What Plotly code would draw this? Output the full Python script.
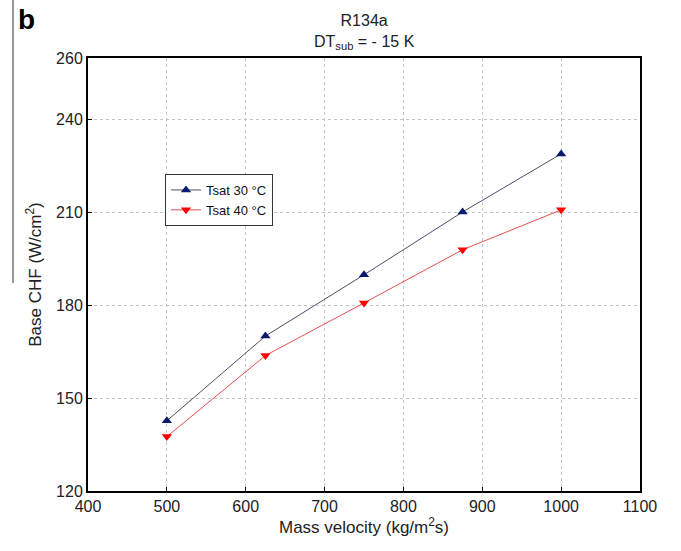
import plotly.graph_objects as go

mass_velocity = [500, 625, 750, 875, 1000]
chf_30 = [142.7, 170.1, 189.9, 210.2, 229.0]
chf_40 = [137.6, 163.8, 180.8, 198.0, 210.9]
y_ticks = [120, 150, 180, 210, 240, 260]
x_ticks = [400, 500, 600, 700, 800, 900, 1000, 1100]

font_family = "Liberation Sans, Arial, sans-serif"

fig = go.Figure()
fig.add_trace(go.Scatter(
    x=mass_velocity, y=chf_30, mode="lines+markers", name="Tsat 30 °C",
    line=dict(color="#4a4f6a", width=1),
    marker=dict(symbol="triangle-up", size=9, color="#0a1a6e"),
))
fig.add_trace(go.Scatter(
    x=mass_velocity, y=chf_40, mode="lines+markers", name="Tsat 40 °C",
    line=dict(color="#e05050", width=1),
    marker=dict(symbol="triangle-down", size=9, color="#ff0000"),
))

axis_common = dict(
    showline=True, linecolor="black", linewidth=2, mirror=True,
    showgrid=True, gridcolor="#c4c4c4", griddash="dot", gridwidth=1,
    ticks="inside", ticklen=4, tickcolor="black",
    zeroline=False, tickfont=dict(size=16, color="#222", family=font_family),
)

fig.update_xaxes(range=[400, 1100], tickvals=x_ticks,
                 title=dict(text="Mass velocity (kg/m<sup>2</sup>s)", font=dict(size=17, color="#222", family=font_family), standoff=6),
                 **axis_common)
fig.update_yaxes(range=[120, 260], tickvals=y_ticks,
                 title=dict(text="Base CHF (W/cm<sup>2</sup>)", font=dict(size=17, color="#222", family=font_family), standoff=10),
                 **axis_common)

plot_w = 681 - 88 - 41
plot_h = 551 - 58 - 60

fig.update_layout(
    width=681, height=551,
    margin=dict(l=88, r=41, t=58, b=60),
    paper_bgcolor="white", plot_bgcolor="white",
    font=dict(family=font_family, color="#222"),
    legend=dict(x=(165 - 88) / plot_w, y=(491 - 174) / plot_h, xanchor="left", yanchor="top",
                bgcolor="white", bordercolor="#333", borderwidth=1,
                font=dict(size=13, family=font_family, color="#111"),
                tracegroupgap=0, itemwidth=30),
    annotations=[
        dict(text="R134a<br>DT<sub>sub</sub> = - 15 K", x=0.5, y=1.0, xref="paper", yref="paper",
             xanchor="center", yanchor="bottom", yshift=4, showarrow=False,
             font=dict(size=16, color="#222", family=font_family)),
        dict(text="<b>b</b>", x=(16 - 88) / plot_w, y=(551 - 60 - 20) / plot_h,
             xref="paper", yref="paper", xanchor="left", yanchor="middle", showarrow=False,
             font=dict(size=28, color="black", family=font_family)),
    ],
)
fig.add_shape(type="line", xref="paper", yref="paper",
              x0=(13 - 88) / plot_w, x1=(13 - 88) / plot_w,
              y0=(551 - 60 - 0) / plot_h, y1=(551 - 60 - 283) / plot_h,
              line=dict(color="#333", width=1))

fig.write_html("out.html")
